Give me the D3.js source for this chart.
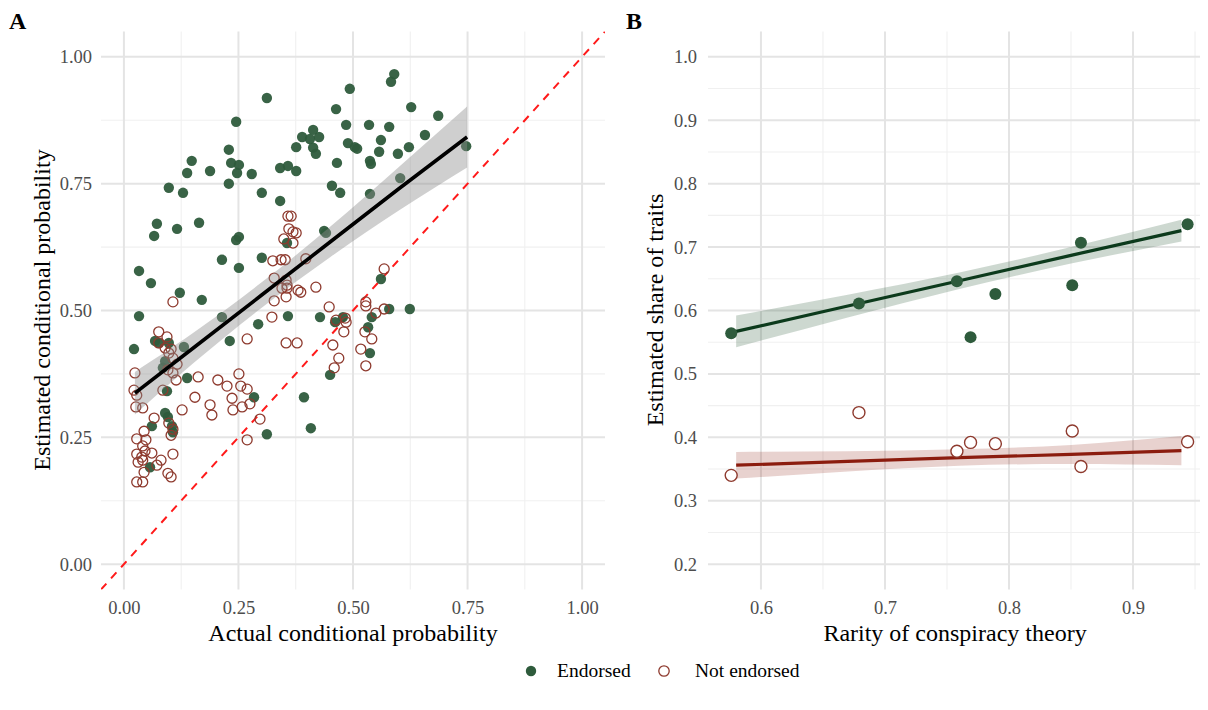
<!DOCTYPE html>
<html>
<head>
<meta charset="utf-8">
<script src="https://cdn.jsdelivr.net/npm/d3@7"></script>
<style>
  body { margin: 0; background: #fff; }
  svg text { font-family: "Liberation Serif", "Times New Roman", serif; }
</style>
</head>
<body>
<svg id="chart" width="1208" height="710"></svg>
<script>
// panel A: [actual, estimated]
const endorsedA = [
  [0.312, 0.919], [0.493, 0.937], [0.463, 0.897], [0.245, 0.872], [0.485, 0.866],
  [0.389, 0.842], [0.413, 0.856], [0.406, 0.838], [0.426, 0.842], [0.489, 0.830],
  [0.504, 0.822], [0.376, 0.822], [0.413, 0.821], [0.419, 0.809], [0.229, 0.817],
  [0.148, 0.795], [0.138, 0.771], [0.188, 0.775], [0.234, 0.791], [0.251, 0.787],
  [0.247, 0.771], [0.279, 0.769], [0.341, 0.781], [0.358, 0.785], [0.376, 0.775],
  [0.465, 0.791], [0.229, 0.750], [0.098, 0.742], [0.129, 0.732], [0.301, 0.732],
  [0.341, 0.716], [0.454, 0.746], [0.472, 0.732], [0.072, 0.671], [0.066, 0.647],
  [0.116, 0.661], [0.164, 0.673], [0.245, 0.639], [0.251, 0.645], [0.437, 0.657],
  [0.441, 0.653], [0.301, 0.604], [0.214, 0.600], [0.251, 0.584], [0.033, 0.578],
  [0.059, 0.554], [0.122, 0.535], [0.170, 0.521], [0.033, 0.489], [0.214, 0.487],
  [0.358, 0.489], [0.428, 0.487], [0.478, 0.487], [0.590, 0.966], [0.583, 0.951],
  [0.627, 0.901], [0.686, 0.884], [0.535, 0.866], [0.579, 0.862], [0.509, 0.819],
  [0.561, 0.836], [0.557, 0.813], [0.598, 0.809], [0.622, 0.822], [0.747, 0.824],
  [0.537, 0.795], [0.539, 0.789], [0.657, 0.846], [0.537, 0.730], [0.603, 0.761],
  [0.561, 0.562], [0.541, 0.487], [0.579, 0.503], [0.624, 0.503], [0.293, 0.473],
  [0.461, 0.477], [0.022, 0.424], [0.068, 0.440], [0.076, 0.436], [0.098, 0.436],
  [0.131, 0.428], [0.231, 0.440], [0.090, 0.400], [0.085, 0.387], [0.138, 0.367],
  [0.094, 0.341], [0.284, 0.329], [0.393, 0.329], [0.450, 0.373], [0.090, 0.298],
  [0.096, 0.290], [0.105, 0.272], [0.061, 0.272], [0.312, 0.256], [0.408, 0.268],
  [0.057, 0.191], [0.356, 0.633], [0.537, 0.416], [0.533, 0.467], [0.107, 0.260]
];

const notEndorsedA = [
  [0.358, 0.686], [0.365, 0.686], [0.360, 0.661], [0.369, 0.655], [0.376, 0.653],
  [0.349, 0.641], [0.369, 0.633], [0.325, 0.598], [0.343, 0.600], [0.352, 0.600],
  [0.397, 0.602], [0.328, 0.564], [0.354, 0.560], [0.356, 0.550], [0.345, 0.544],
  [0.356, 0.544], [0.380, 0.540], [0.386, 0.536], [0.419, 0.546], [0.354, 0.527],
  [0.328, 0.519], [0.107, 0.517], [0.448, 0.507], [0.323, 0.487], [0.463, 0.481],
  [0.483, 0.485], [0.485, 0.477], [0.269, 0.444], [0.354, 0.436], [0.378, 0.436],
  [0.480, 0.458], [0.456, 0.432], [0.469, 0.406], [0.459, 0.387], [0.528, 0.517],
  [0.528, 0.509], [0.550, 0.495], [0.568, 0.503], [0.526, 0.458], [0.541, 0.444],
  [0.517, 0.424], [0.528, 0.391], [0.568, 0.582], [0.076, 0.458], [0.094, 0.448],
  [0.103, 0.424], [0.107, 0.406], [0.076, 0.436], [0.090, 0.426], [0.098, 0.416],
  [0.024, 0.377], [0.116, 0.394], [0.096, 0.383], [0.107, 0.377], [0.114, 0.363],
  [0.085, 0.343], [0.022, 0.343], [0.028, 0.333], [0.026, 0.310], [0.041, 0.308],
  [0.162, 0.369], [0.205, 0.363], [0.225, 0.351], [0.251, 0.375], [0.255, 0.351],
  [0.269, 0.345], [0.155, 0.329], [0.188, 0.314], [0.192, 0.294], [0.236, 0.327],
  [0.238, 0.304], [0.258, 0.310], [0.275, 0.316], [0.127, 0.304], [0.297, 0.286],
  [0.269, 0.245], [0.066, 0.288], [0.044, 0.262], [0.028, 0.247], [0.048, 0.245],
  [0.028, 0.217], [0.031, 0.201], [0.039, 0.211], [0.041, 0.205], [0.046, 0.223],
  [0.061, 0.219], [0.081, 0.205], [0.072, 0.195], [0.107, 0.217], [0.044, 0.181],
  [0.028, 0.162], [0.041, 0.162], [0.096, 0.179], [0.103, 0.172], [0.098, 0.278],
  [0.107, 0.266], [0.103, 0.254], [0.041, 0.233]
];

// fitted line and half width of its band
const fitAX = [0.024, 0.15, 0.3, 0.45, 0.6, 0.749];
const fitAY = [0.337, 0.425, 0.530, 0.635, 0.740, 0.842];
const fitAHalf = [0.042, 0.030, 0.025, 0.030, 0.043, 0.060];

// panel B
const rarity = [0.576, 0.679, 0.758, 0.769, 0.789, 0.851, 0.858, 0.944];
const shareEndorsed = [0.564, 0.611, 0.646, 0.558, 0.626, 0.640, 0.707, 0.736];
const shareNotEndorsed = [0.340, 0.439, 0.378, 0.392, 0.390, 0.410, 0.354, 0.393];

const fitBX = [0.58, 0.67, 0.76, 0.85, 0.939];
const fitEndY = [0.567, 0.607, 0.647, 0.687, 0.726];
const fitEndHalf = [0.025, 0.018, 0.013, 0.013, 0.017];
const fitNotY = [0.356, 0.362, 0.368, 0.373, 0.379];
const fitNotHalf = [0.021, 0.016, 0.013, 0.015, 0.023];

const ticksA = [0, 0.25, 0.5, 0.75, 1];
const minorA = [0.125, 0.375, 0.625, 0.875];
const ticksBX = [0.6, 0.7, 0.8, 0.9];
const minorBX = [0.65, 0.75, 0.85, 0.95];
const ticksBY = [0.2, 0.3, 0.4, 0.5, 0.6, 0.7, 0.8, 0.9, 1.0];
const minorBY = [0.25, 0.35, 0.45, 0.55, 0.65, 0.75, 0.85, 0.95];

const GREEN = '#2e5b3c';
const RED = '#8e3a2e';
const GREEN_LINE = '#0c3a1c';
const RED_LINE = '#8b1c0e';

const svg = d3.select('#chart');
const panelTop = 31.5, panelBottom = 589.5;

function gridlines (g, x, y, xMajor, xMinor, yMajor, yMinor) {
  const [x0, x1] = x.range();
  const [y0, y1] = y.range();
  g.selectAll('.minor-x').data(xMinor).join('line')
    .attr('x1', d => x(d)).attr('x2', d => x(d)).attr('y1', y0).attr('y2', y1)
    .style('stroke', '#f0f0f0').style('stroke-width', 1.1);
  g.selectAll('.minor-y').data(yMinor).join('line')
    .attr('y1', d => y(d)).attr('y2', d => y(d)).attr('x1', x0).attr('x2', x1)
    .style('stroke', '#f0f0f0').style('stroke-width', 1.1);
  g.selectAll('.major-x').data(xMajor).join('line')
    .attr('x1', d => x(d)).attr('x2', d => x(d)).attr('y1', y0).attr('y2', y1)
    .style('stroke', '#e4e4e4').style('stroke-width', 2);
  g.selectAll('.major-y').data(yMajor).join('line')
    .attr('y1', d => y(d)).attr('y2', d => y(d)).attr('x1', x0).attr('x2', x1)
    .style('stroke', '#e4e4e4').style('stroke-width', 2);
}

function axes (x, y, xTicks, yTicks, fmt, yPad) {
  const ax = svg.append('g')
    .attr('transform', `translate(0,${panelBottom})`)
    .call(d3.axisBottom(x).tickValues(xTicks).tickFormat(fmt).tickSize(0).tickPadding(11));
  const ay = svg.append('g')
    .attr('transform', `translate(${x.range()[0]},0)`)
    .call(d3.axisLeft(y).tickValues(yTicks).tickFormat(fmt).tickSize(0).tickPadding(yPad));
  [ax, ay].forEach(a => {
    a.select('.domain').remove();
    a.selectAll('text')
      .style('font-family', '"Liberation Serif", serif')
      .style('font-size', '18.5px')
      .style('fill', '#4d4d4d');
  });
}

function band (g, x, y, xs, ys, half, fill, opacity) {
  g.append('path')
    .datum(d3.range(xs.length))
    .attr('d', d3.area()
      .curve(d3.curveNatural)
      .x(i => x(xs[i]))
      .y0(i => y(ys[i] - half[i]))
      .y1(i => y(ys[i] + half[i])))
    .style('fill', fill)
    .style('opacity', opacity);
}

function fitLine (g, x, y, xs, ys, color, width) {
  g.append('path')
    .datum(d3.range(xs.length))
    .attr('d', d3.line().x(i => x(xs[i])).y(i => y(ys[i])))
    .style('fill', 'none')
    .style('stroke', color)
    .style('stroke-width', width);
}

// ---------- panel A ----------
const xA = d3.scaleLinear().domain([-0.05, 1.05]).range([101, 605]);
const yA = d3.scaleLinear().domain([-0.05, 1.05]).range([panelBottom, panelTop]);

gridlines(svg.append('g'), xA, yA, ticksA, minorA, ticksA, minorA);

svg.append('clipPath').attr('id', 'clipA')
  .append('rect').attr('x', 101).attr('y', panelTop).attr('width', 504).attr('height', panelBottom - panelTop);

const gA = svg.append('g').attr('clip-path', 'url(#clipA)');

gA.append('line')
  .attr('x1', xA(-0.05)).attr('y1', yA(-0.05))
  .attr('x2', xA(1.05)).attr('y2', yA(1.05))
  .style('stroke', '#ff1a1a')
  .style('stroke-width', 2)
  .style('stroke-dasharray', '8,7');

gA.selectAll('.end').data(endorsedA).join('circle')
  .attr('cx', d => xA(d[0])).attr('cy', d => yA(d[1])).attr('r', 5.2)
  .style('fill', GREEN).style('opacity', 0.95);

gA.selectAll('.not').data(notEndorsedA).join('circle')
  .attr('cx', d => xA(d[0])).attr('cy', d => yA(d[1])).attr('r', 5)
  .style('fill', 'none').style('stroke', RED).style('stroke-width', 1.3);

band(gA, xA, yA, fitAX, fitAY, fitAHalf, '#8c8c8c', 0.42);
fitLine(gA, xA, yA, fitAX, fitAY, '#000', 3.6);

axes(xA, yA, ticksA, ticksA, d3.format('.2f'), 9);

// ---------- panel B ----------
const xB = d3.scaleLinear().domain([0.5573, 0.954]).range([708, 1200]);
const yB = d3.scaleLinear().domain([0.16, 1.04]).range([panelBottom, panelTop]);

gridlines(svg.append('g'), xB, yB, ticksBX, minorBX, ticksBY, minorBY);

svg.append('clipPath').attr('id', 'clipB')
  .append('rect').attr('x', 700).attr('y', panelTop).attr('width', 508).attr('height', panelBottom - panelTop);
const gB = svg.append('g').attr('clip-path', 'url(#clipB)');

band(gB, xB, yB, fitBX, fitEndY, fitEndHalf, GREEN, 0.24);
band(gB, xB, yB, fitBX, fitNotY, fitNotHalf, RED_LINE, 0.2);
fitLine(gB, xB, yB, fitBX, fitEndY, GREEN_LINE, 3.2);
fitLine(gB, xB, yB, fitBX, fitNotY, RED_LINE, 3.2);

gB.selectAll('.end').data(rarity).join('circle')
  .attr('cx', d => xB(d)).attr('cy', (d, i) => yB(shareEndorsed[i])).attr('r', 6)
  .style('fill', GREEN);

gB.selectAll('.not').data(rarity).join('circle')
  .attr('cx', d => xB(d)).attr('cy', (d, i) => yB(shareNotEndorsed[i])).attr('r', 6)
  .style('fill', '#fff').style('stroke', RED).style('stroke-width', 1.4);

axes(xB, yB, ticksBX, ticksBY, d3.format('.1f'), 11);

// ---------- titles ----------
const label = (x, y, text, size, opts = {}) => svg.append('text')
  .attr('x', x).attr('y', y)
  .attr('transform', opts.rotate ? `rotate(-90,${x},${y})` : null)
  .style('text-anchor', opts.anchor || 'middle')
  .style('font-size', size + 'px')
  .style('font-weight', opts.bold ? 'bold' : 'normal')
  .style('fill', '#000')
  .text(text);

label(353, 641, 'Actual conditional probability', 24);
label(955, 641, 'Rarity of conspiracy theory', 24);
label(50, 310, 'Estimated conditional probability', 24, { rotate: true });
label(663, 310, 'Estimated share of traits', 24, { rotate: true });
label(9, 29, 'A', 24, { anchor: 'start', bold: true });
label(626, 29, 'B', 24, { anchor: 'start', bold: true });

// ---------- legend ----------
const legend = svg.append('g');
legend.append('circle').attr('cx', 531).attr('cy', 671).attr('r', 5.2).style('fill', GREEN);
legend.append('circle').attr('cx', 664).attr('cy', 671).attr('r', 5.2)
  .style('fill', 'none').style('stroke', RED).style('stroke-width', 1.3);
label(557, 677, 'Endorsed', 19.5, { anchor: 'start' });
label(695, 677, 'Not endorsed', 19.5, { anchor: 'start' });
</script>
</body>
</html>
